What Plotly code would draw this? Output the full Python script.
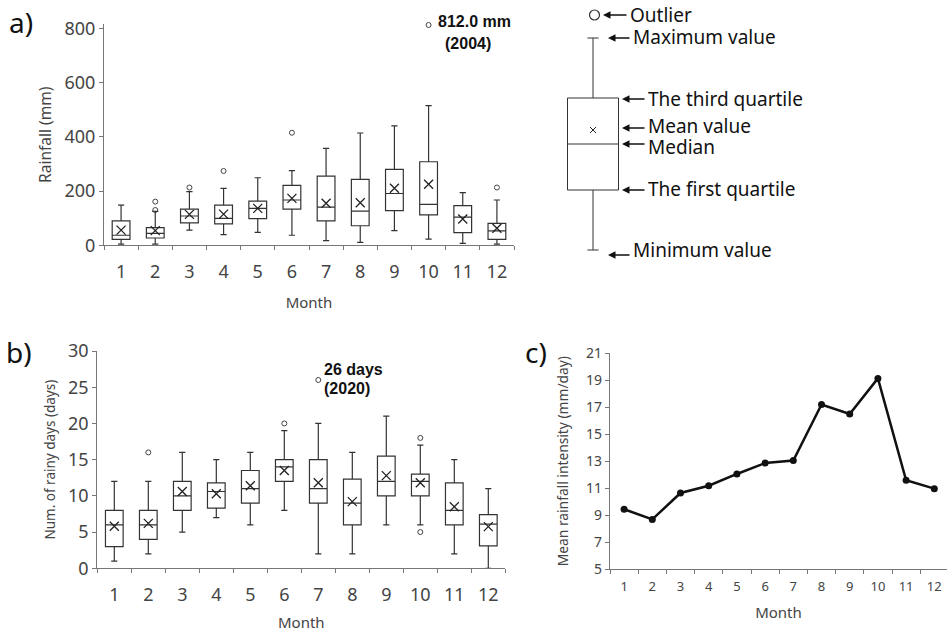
import plotly.graph_objects as go

W, H = 947, 632
months = [str(m) for m in range(1, 13)]

# ---- Panel a: monthly rainfall (mm)
rain_lower = [4, 4, 56, 39, 48, 37, 17, 11, 54, 23, 7, 4]
rain_q1 = [22, 27, 83, 79, 98, 133, 90, 72, 128, 112, 47, 22]
rain_median = [37, 44, 108, 99, 136, 167, 141, 126, 191, 151, 104, 53]
rain_q3 = [90, 65, 133, 148, 163, 221, 255, 243, 280, 308, 146, 81]
rain_upper = [148, 125, 198, 210, 249, 275, 357, 414, 440, 515, 194, 167]
rain_mean = [56, 54, 114, 115, 136, 173, 155, 157, 210, 225, 97, 63]
rain_out_month = ["2", "2", "3", "4", "6", "10", "12"]
rain_out_val = [161, 130, 213, 274, 415, 812, 213]

# ---- Panel b: number of rainy days
days_lower = [1, 2, 5, 7, 6, 8, 2, 2, 6, 6, 2, 0]
days_q1 = [3, 4, 8, 8.3, 9, 12, 9, 6, 10, 10, 6, 3.1]
days_median = [6, 6, 10, 10.6, 11, 14, 11, 9, 12, 12, 8, 6.1]
days_q3 = [8, 8, 12, 11.8, 13.5, 15, 15, 12.3, 15.5, 13, 11.8, 7.4]
days_upper = [12, 12, 16, 15, 16, 19, 20, 16, 21, 17, 15, 11]
days_mean = [5.8, 6.2, 10.6, 10.3, 11.4, 13.5, 11.8, 9.2, 12.8, 11.8, 8.5, 5.75]
days_out_month = ["2", "6", "7", "10", "10"]
days_out_val = [16, 20, 26, 18, 5]

# ---- Panel c: mean rainfall intensity (mm/day)
intensity = [9.43, 8.68, 10.64, 11.18, 12.05, 12.86, 13.04, 17.2, 16.5, 19.14, 11.58, 10.96]

# ---- Schematic box (explanation)
sch_stats = dict(lower=20, q1=80, median=126, q3=172, upper=232, mean=140, outlier=255)
sch_labels = ["Outlier", "Maximum value", "The third quartile", "Mean value",
              "Median", "The first quartile", "Minimum value"]

FONT = "Noto Sans"
TICKC = "#444444"
AXC = "#777777"
BOXC = "#333333"
MARKC = "#222222"
OUTC = "#444444"


def px_dom_x(a, b):
    return [a / W, b / W]


def px_dom_y(top, bottom):
    return [1 - bottom / H, 1 - top / H]


fig = go.Figure()

# Panel a
fig.add_trace(go.Box(x=months, q1=rain_q1, median=rain_median, q3=rain_q3,
                     lowerfence=rain_lower, upperfence=rain_upper,
                     fillcolor="white", line=dict(color=BOXC, width=1.2),
                     width=0.52, whiskerwidth=0.35, boxpoints=False,
                     xaxis="x", yaxis="y", showlegend=False, hoverinfo="skip"))
fig.add_trace(go.Scatter(x=months, y=rain_mean, mode="markers",
                         marker=dict(symbol="x-thin-open", size=9, color=MARKC, line=dict(width=1.3, color=MARKC)),
                         xaxis="x", yaxis="y", showlegend=False, cliponaxis=False))
fig.add_trace(go.Scatter(x=rain_out_month, y=rain_out_val, mode="markers",
                         marker=dict(symbol="circle-open", size=5, color=OUTC, line=dict(width=1, color=OUTC)),
                         xaxis="x", yaxis="y", showlegend=False, cliponaxis=False))

# Panel b
fig.add_trace(go.Box(x=months, q1=days_q1, median=days_median, q3=days_q3,
                     lowerfence=days_lower, upperfence=days_upper,
                     fillcolor="white", line=dict(color=BOXC, width=1.2),
                     width=0.52, whiskerwidth=0.35, boxpoints=False,
                     xaxis="x2", yaxis="y2", showlegend=False, hoverinfo="skip"))
fig.add_trace(go.Scatter(x=months, y=days_mean, mode="markers",
                         marker=dict(symbol="x-thin-open", size=9, color=MARKC, line=dict(width=1.3, color=MARKC)),
                         xaxis="x2", yaxis="y2", showlegend=False, cliponaxis=False))
fig.add_trace(go.Scatter(x=days_out_month, y=days_out_val, mode="markers",
                         marker=dict(symbol="circle-open", size=5, color=OUTC, line=dict(width=1, color=OUTC)),
                         xaxis="x2", yaxis="y2", showlegend=False, cliponaxis=False))

# Panel c
fig.add_trace(go.Scatter(x=months, y=intensity, mode="lines+markers",
                         line=dict(color="#111", width=2.5),
                         marker=dict(symbol="circle", size=7, color="#111"),
                         xaxis="x3", yaxis="y3", showlegend=False, cliponaxis=False))

# Schematic
fig.add_trace(go.Box(x=[0.5], q1=[sch_stats["q1"]], median=[sch_stats["median"]], q3=[sch_stats["q3"]],
                     lowerfence=[sch_stats["lower"]], upperfence=[sch_stats["upper"]],
                     fillcolor="white", line=dict(color=BOXC, width=1),
                     width=0.51, whiskerwidth=0.22, boxpoints=False,
                     xaxis="x4", yaxis="y4", showlegend=False, hoverinfo="skip"))
fig.add_trace(go.Scatter(x=[0.5], y=[sch_stats["mean"]], mode="markers",
                         marker=dict(symbol="x-thin-open", size=6, color=MARKC, line=dict(width=1, color=MARKC)),
                         xaxis="x4", yaxis="y4", showlegend=False))
fig.add_trace(go.Scatter(x=[0.515], y=[sch_stats["outlier"]], mode="markers",
                         marker=dict(symbol="circle-open", size=10, color="#333", line=dict(width=1.2, color="#333")),
                         xaxis="x4", yaxis="y4", showlegend=False, cliponaxis=False))

common_x = dict(type="category", tickson="boundaries", ticks="outside", ticklen=4,
                tickcolor=AXC, showline=True, linecolor=AXC, linewidth=1.2,
                showgrid=False, zeroline=False, automargin=False, range=[-0.5, 11.5])
common_y = dict(ticks="outside", ticklen=4, tickcolor=AXC, showline=True, linecolor=AXC,
                linewidth=1.2, showgrid=False, zeroline=False, automargin=False)

fig.update_layout(
    width=W, height=H, template="none",
    margin=dict(l=0, r=0, t=0, b=0),
    paper_bgcolor="white", plot_bgcolor="white",
    font=dict(family=FONT, color=TICKC),
    xaxis=dict(common_x, domain=px_dom_x(104, 514), anchor="y",
               tickfont=dict(size=18, color=TICKC), ticklabelstandoff=10,
               title=dict(text="Month", font=dict(size=15, color=TICKC), standoff=15)),
    yaxis=dict(common_y, domain=px_dom_y(24.2, 245.3), anchor="x", range=[0, 815],
               tickvals=[0, 200, 400, 600, 800], tickfont=dict(size=18, color=TICKC),
               title=dict(text="Rainfall (mm)", font=dict(size=15.5, color=TICKC), standoff=8)),
    xaxis2=dict(common_x, domain=px_dom_x(97.3, 505.3), anchor="y2",
                tickfont=dict(size=18, color=TICKC), ticklabelstandoff=10,
                title=dict(text="Month", font=dict(size=15, color=TICKC), standoff=15)),
    yaxis2=dict(common_y, domain=px_dom_y(351, 568.3), anchor="x2", range=[0, 30],
                dtick=5, tickfont=dict(size=18, color=TICKC),
                title=dict(text="Num. of rainy days (days)", font=dict(size=13.5, color=TICKC), standoff=9)),
    xaxis3=dict(common_x, domain=px_dom_x(610, 947), anchor="y3", range=[-0.5, 11.45],
                tickfont=dict(size=13, color=TICKC), ticklabelstandoff=5,
                title=dict(text="Month", font=dict(size=15, color=TICKC), standoff=13)),
    yaxis3=dict(common_y, domain=px_dom_y(353.3, 569), anchor="x3", range=[5, 21],
                tickvals=list(range(5, 22, 2)), tickfont=dict(size=14, color=TICKC),
                title=dict(text="Mean rainfall intensity (mm/day)", font=dict(size=13.8, color=TICKC), standoff=14)),
    xaxis4=dict(domain=px_dom_x(543, 643), anchor="y4", range=[0, 1], visible=False, automargin=False),
    yaxis4=dict(domain=px_dom_y(0, 270), anchor="x4", range=[0, 270], visible=False, automargin=False),
)

ann = []
# panel letters
for txt, x, y in [("a)", 7, 22), ("b)", 4, 352), ("c)", 523, 352)]:
    ann.append(dict(text=txt, x=x / W, y=1 - y / H, xref="paper", yref="paper",
                    xanchor="left", yanchor="middle", showarrow=False,
                    font=dict(size=28, color="#111", family=FONT)))
# outlier notes
for txt, x, y in [("812.0 mm", 436, 22), ("(2004)", 443, 43),
                  ("26 days", 322, 369), ("(2020)", 322, 388)]:
    ann.append(dict(text="<b>%s</b>" % txt, x=x / W, y=1 - y / H, xref="paper", yref="paper",
                    xanchor="left", yanchor="middle", showarrow=False,
                    font=dict(size=16, color="#111", family="Liberation Sans")))
# schematic arrows and labels: (head_x, tail_x, arrow_y, text_y)
sch_pos = [(603, 628, 15, 15), (608, 631, 38, 37), (622, 646, 99, 99), (622, 646, 128, 126),
           (622, 646, 144, 147), (622, 646, 190, 189), (608, 631, 255, 250)]
for lab, (hx, tx, ay_, ty) in zip(sch_labels, sch_pos):
    ann.append(dict(text="", x=hx / W, y=1 - ay_ / H, xref="paper", yref="paper",
                    showarrow=True, ax=tx - hx, ay=0, axref="pixel", ayref="pixel",
                    arrowhead=2, arrowsize=1, arrowwidth=1.5, arrowcolor="#111"))
    ann.append(dict(text=lab, x=tx / W, y=1 - ty / H, xref="paper", yref="paper",
                    xanchor="left", yanchor="middle", showarrow=False,
                    font=dict(size=19, color="#111", family=FONT)))
fig.update_layout(annotations=ann)

fig.write_html("out.html", config={"displayModeBar": False},
               post_script="document.body.style.margin='0';document.body.style.overflow='hidden';")
